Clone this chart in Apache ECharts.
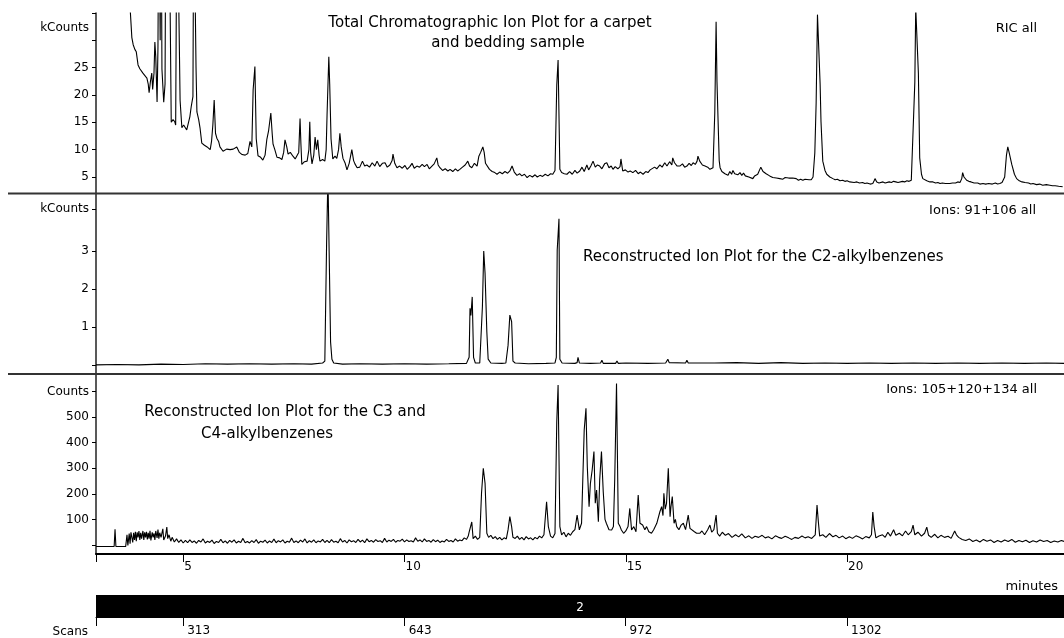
<!DOCTYPE html>
<html><head><meta charset="utf-8">
<script src="https://cdn.jsdelivr.net/npm/echarts@6/dist/echarts.min.js"></script>
<style>html,body{margin:0;padding:0;background:#fff}#c{width:1064px;height:638px}</style>
</head><body><div id="c"></div>
<script>
// ---- data (time in minutes, intensity) ----
const ticPoints = [[3.75,40],[3.80,36],[3.84,30.5],[3.87,29.2],[3.91,28.3],[3.94,27.9],[3.98,25.5],[4.02,24.8],[4.06,24.5],[4.09,24.0],[4.13,23.6],[4.18,23.1],[4.21,22.0],[4.23,20.4],[4.26,22.5],[4.29,24.0],[4.31,21.0],[4.34,24.0],[4.36,29.7],[4.38,27.0],[4.41,18.7],[4.43,28.8],[4.45,60],[4.48,30],[4.50,60],[4.52,24.7],[4.56,18.7],[4.59,22],[4.61,60],[4.66,60],[4.70,40],[4.73,15.0],[4.77,15.5],[4.81,15.1],[4.83,14.5],[4.86,60],[4.90,60],[4.93,19],[4.97,14.0],[5.01,14.5],[5.04,14.5],[5.08,13.6],[5.11,13.3],[5.15,16],[5.18,17.8],[5.22,19.7],[5.24,60],[5.27,38],[5.29,25],[5.31,16.9],[5.35,15.5],[5.38,14.0],[5.42,11.2],[5.48,10.8],[5.54,10.5],[5.61,10.0],[5.64,11.5],[5.67,14.5],[5.70,19.1],[5.73,13],[5.76,12.1],[5.80,11.5],[5.83,10.5],[5.87,10.2],[5.90,9.7],[5.98,10.1],[6.06,10.0],[6.13,10.1],[6.21,10.5],[6.27,9.5],[6.33,9.1],[6.40,9.0],[6.46,9.3],[6.51,11.5],[6.55,10.5],[6.58,20.9],[6.62,25.2],[6.65,12],[6.69,8.9],[6.75,8.6],[6.80,8.1],[6.85,9],[6.89,11.9],[6.93,13.5],[6.98,16.7],[7.01,13],[7.03,11],[7.07,10],[7.12,8.6],[7.18,8.5],[7.23,8.2],[7.27,9.5],[7.30,11.8],[7.34,10.5],[7.37,9.2],[7.42,9.5],[7.48,8.8],[7.53,8.3],[7.57,8.0],[7.61,9.5],[7.64,15.7],[7.66,11],[7.68,7.3],[7.74,7.8],[7.80,7.9],[7.84,10],[7.86,15.1],[7.88,9.5],[7.91,7.4],[7.95,9],[7.98,12.3],[8.01,10],[8.04,11.8],[8.07,9],[8.09,7.9],[8.15,8.2],[8.20,7.9],[8.23,10],[8.25,16.3],[8.29,27],[8.31,22],[8.34,12],[8.38,8.3],[8.43,8.8],[8.47,8.4],[8.51,10],[8.54,13],[8.57,10.5],[8.61,8.4],[8.66,7.5],[8.70,6.3],[8.75,7.5],[8.81,10],[8.85,8],[8.88,7.4],[8.93,6.7],[8.99,6.8],[9.05,7.9],[9.10,7.0],[9.15,7.2],[9.21,6.8],[9.27,7.6],[9.33,7.0],[9.38,7.9],[9.44,6.9],[9.50,7.5],[9.56,7.6],[9.61,6.8],[9.67,7.2],[9.72,8.0],[9.74,9.2],[9.78,7.5],[9.83,6.7],[9.89,7.0],[9.95,6.6],[10.01,7.1],[10.06,6.4],[10.12,6.9],[10.17,7.5],[10.22,6.6],[10.28,7.0],[10.34,6.8],[10.40,7.3],[10.45,6.9],[10.51,7.3],[10.56,6.5],[10.62,7.0],[10.67,7.4],[10.71,7.6],[10.73,8.5],[10.76,7.2],[10.80,6.7],[10.86,6.2],[10.92,6.5],[10.98,6.1],[11.03,6.4],[11.09,6.0],[11.15,6.5],[11.20,6.1],[11.25,6.4],[11.31,6.8],[11.37,7.2],[11.43,7.9],[11.47,7.0],[11.52,6.7],[11.58,7.5],[11.64,7.0],[11.68,8.8],[11.72,9.5],[11.77,10.5],[11.80,9.5],[11.83,7.5],[11.86,7.2],[11.92,6.4],[11.98,6.0],[12.04,5.8],[12.09,5.5],[12.15,5.9],[12.21,5.6],[12.27,6.0],[12.33,5.7],[12.38,6.1],[12.43,7.0],[12.48,5.9],[12.54,5.3],[12.60,5.6],[12.65,5.2],[12.71,5.5],[12.77,4.9],[12.83,5.3],[12.89,5.0],[12.95,5.4],[13.00,5.0],[13.06,5.3],[13.12,5.1],[13.18,5.5],[13.24,5.2],[13.30,5.6],[13.35,5.5],[13.40,6.2],[13.44,21.8],[13.47,26.4],[13.49,26.4],[13.51,6.4],[13.55,5.8],[13.61,5.6],[13.67,5.5],[13.73,6.0],[13.79,5.5],[13.85,6.2],[13.90,5.7],[13.96,6.1],[14.01,6.8],[14.06,6.0],[14.12,7.2],[14.16,6.3],[14.21,7.0],[14.26,7.9],[14.31,6.8],[14.36,7.2],[14.41,7.0],[14.46,6.5],[14.52,7.4],[14.57,7.6],[14.62,6.7],[14.67,7.0],[14.71,6.4],[14.76,6.9],[14.82,6.5],[14.87,6.9],[14.89,8.3],[14.93,6.1],[14.99,6.3],[15.05,5.9],[15.10,6.1],[15.16,5.8],[15.22,6.2],[15.28,5.6],[15.33,5.9],[15.39,5.5],[15.45,6.0],[15.50,5.8],[15.55,6.3],[15.59,6.1],[15.65,6.8],[15.70,6.5],[15.77,7.2],[15.82,6.8],[15.88,7.6],[15.93,7.0],[15.99,7.8],[16.04,7.2],[16.06,8.5],[16.10,7.6],[16.16,7.0],[16.22,7.0],[16.28,7.4],[16.33,6.8],[16.38,7.0],[16.43,7.5],[16.48,7.1],[16.52,7.6],[16.57,7.3],[16.61,7.9],[16.63,8.8],[16.67,7.9],[16.73,7.2],[16.79,7.0],[16.85,6.8],[16.90,6.4],[16.94,6.6],[16.97,6.7],[17.01,16.7],[17.04,33.4],[17.06,22.4],[17.08,22.4],[17.11,8],[17.13,6.7],[17.17,6.0],[17.20,6.3],[17.24,5.6],[17.28,5.9],[17.31,5.3],[17.35,6.0],[17.39,5.5],[17.42,6.2],[17.46,5.6],[17.50,5.9],[17.53,5.4],[17.58,5.8],[17.62,5.3],[17.66,5.7],[17.70,5.2],[17.74,5.5],[17.78,5.0],[17.82,5.3],[17.87,4.7],[17.91,5.2],[17.95,5.0],[17.98,5.5],[18.02,5.5],[18.05,6.8],[18.07,7.0],[18.10,6.0],[18.14,6.2],[18.17,5.6],[18.20,5.8],[18.25,5.2],[18.29,5.4],[18.32,4.9],[18.36,5.2],[18.40,4.8],[18.44,5.1],[18.48,4.7],[18.52,4.9],[18.55,4.6],[18.60,4.9],[18.64,4.6],[18.68,4.8],[18.72,4.5],[18.77,4.8],[18.81,4.5],[18.85,4.7],[18.90,4.4],[18.95,4.6],[19.00,4.4],[19.05,4.6],[19.09,4.3],[19.14,4.5],[19.19,4.5],[19.23,5.0],[19.27,9.4],[19.30,18.5],[19.33,34.7],[19.36,34.7],[19.39,22],[19.41,15.1],[19.45,7.9],[19.50,6.2],[19.54,5.5],[19.58,5.2],[19.61,5.0],[19.65,4.8],[19.68,4.7],[19.73,4.5],[19.78,4.6],[19.84,4.3],[19.90,4.4],[19.95,4.2],[20.00,4.3],[20.06,4.1],[20.10,4.2],[20.16,4.0],[20.22,4.1],[20.28,3.9],[20.35,4.0],[20.40,3.8],[20.45,3.9],[20.52,3.7],[20.58,3.8],[20.61,4.3],[20.63,4.7],[20.67,4.1],[20.72,3.9],[20.75,4.0],[20.81,4.1],[20.86,3.9],[20.90,3.9],[20.95,4.1],[21.00,4.0],[21.05,4.2],[21.10,4.1],[21.15,4.0],[21.19,4.1],[21.25,4.2],[21.30,4.1],[21.35,4.3],[21.40,4.2],[21.45,4.4],[21.49,4.4],[21.53,22.4],[21.55,36],[21.59,36],[21.61,24],[21.64,8.5],[21.68,5.5],[21.71,4.7],[21.75,4.4],[21.80,4.3],[21.87,4.1],[21.94,4.1],[22.00,3.9],[22.05,4.0],[22.10,3.8],[22.15,3.9],[22.22,3.8],[22.32,3.8],[22.38,3.9],[22.45,3.9],[22.50,4.1],[22.55,4.0],[22.59,4.7],[22.61,5.8],[22.64,5.0],[22.70,4.4],[22.75,4.2],[22.80,4.1],[22.87,3.9],[22.95,3.9],[23.00,3.7],[23.07,3.8],[23.13,3.7],[23.20,3.8],[23.28,3.7],[23.35,3.9],[23.40,3.7],[23.45,3.8],[23.50,4.0],[23.56,5.0],[23.60,9.0],[23.63,10.5],[23.66,9.5],[23.72,7.3],[23.78,5.5],[23.83,4.7],[23.89,4.3],[23.95,4.1],[24.02,4.0],[24.10,3.9],[24.15,3.7],[24.20,3.8],[24.28,3.6],[24.35,3.7],[24.42,3.5],[24.50,3.6],[24.58,3.5],[24.64,3.4],[24.70,3.4],[24.78,3.3],[24.87,3.2]];

const c2Points = [[3.03,0.0],[3.5,0.01],[4.0,0.0],[4.5,0.02],[5.0,0.01],[5.5,0.03],[6.0,0.02],[6.5,0.03],[7.0,0.02],[7.5,0.03],[7.9,0.02],[8.15,0.05],[8.20,0.1],[8.24,3.2],[8.27,5.0],[8.31,5.0],[8.33,0.6],[8.36,0.15],[8.40,0.05],[8.6,0.02],[9.0,0.03],[9.5,0.02],[10.0,0.03],[10.5,0.02],[11.0,0.03],[11.4,0.04],[11.46,0.2],[11.48,1.49],[11.50,1.3],[11.53,1.79],[11.56,0.2],[11.60,0.05],[11.70,0.05],[11.74,0.1],[11.76,1.53],[11.79,3.0],[11.82,2.41],[11.86,0.87],[11.89,0.15],[11.95,0.05],[12.2,0.04],[12.29,0.05],[12.34,0.52],[12.38,1.31],[12.42,1.14],[12.45,0.1],[12.50,0.05],[12.8,0.03],[13.2,0.04],[13.40,0.05],[13.43,0.2],[13.45,3.02],[13.49,3.85],[13.51,0.15],[13.56,0.05],[13.85,0.04],[13.90,0.06],[13.92,0.2],[13.95,0.05],[14.2,0.04],[14.43,0.05],[14.46,0.12],[14.49,0.04],[14.77,0.04],[14.80,0.1],[14.83,0.04],[15.0,0.05],[15.5,0.04],[15.90,0.05],[15.95,0.15],[15.98,0.06],[16.35,0.05],[16.38,0.12],[16.41,0.05],[17.0,0.05],[17.5,0.06],[18.0,0.04],[18.5,0.06],[19.0,0.04],[19.5,0.05],[20.0,0.04],[20.5,0.05],[21.0,0.04],[21.5,0.05],[22.0,0.04],[22.5,0.05],[23.0,0.04],[23.5,0.05],[24.0,0.04],[24.5,0.05],[24.9,0.04]];

const c34Points = [[3.03,-6],[3.44,-6],[3.46,62],[3.48,-6],[3.70,-6],[3.73,40],[3.75,-2],[3.78,45],[3.80,5],[3.82,50],[3.84,55],[3.86,10],[3.88,48],[3.90,20],[3.92,52],[3.94,15],[3.96,50],[3.98,30],[4.00,55],[4.02,20],[4.04,48],[4.06,25],[4.09,55],[4.11,20],[4.13,50],[4.15,30],[4.17,52],[4.19,22],[4.21,48],[4.23,25],[4.25,56],[4.27,18],[4.30,50],[4.32,30],[4.34,46],[4.36,20],[4.38,55],[4.41,28],[4.43,60],[4.45,25],[4.47,48],[4.50,30],[4.54,63],[4.56,20],[4.60,35],[4.63,70],[4.65,25],[4.68,40],[4.72,15],[4.75,30],[4.80,12],[4.85,24],[4.90,10],[4.95,20],[5.00,8],[5.05,18],[5.10,9],[5.15,20],[5.20,10],[5.25,16],[5.30,7],[5.35,18],[5.40,12],[5.45,24],[5.50,8],[5.55,15],[5.60,10],[5.65,19],[5.70,6],[5.75,14],[5.80,10],[5.85,22],[5.90,9],[5.95,16],[6.00,7],[6.05,18],[6.10,11],[6.15,20],[6.20,8],[6.25,15],[6.30,10],[6.35,26],[6.40,9],[6.45,14],[6.50,8],[6.55,17],[6.60,10],[6.65,21],[6.70,7],[6.75,15],[6.80,11],[6.85,19],[6.90,8],[6.95,16],[7.00,10],[7.05,23],[7.10,9],[7.15,17],[7.20,12],[7.25,20],[7.30,8],[7.35,15],[7.40,11],[7.45,27],[7.50,10],[7.55,16],[7.60,9],[7.65,19],[7.70,12],[7.75,24],[7.80,8],[7.85,17],[7.90,11],[7.95,20],[8.00,9],[8.05,16],[8.10,12],[8.15,22],[8.20,10],[8.25,18],[8.30,9],[8.35,21],[8.40,11],[8.45,15],[8.50,9],[8.55,25],[8.60,12],[8.65,18],[8.70,8],[8.75,20],[8.80,13],[8.85,17],[8.90,10],[8.95,22],[9.00,12],[9.05,19],[9.10,9],[9.15,24],[9.20,13],[9.25,18],[9.30,11],[9.35,21],[9.40,14],[9.45,17],[9.50,10],[9.55,26],[9.60,12],[9.65,19],[9.70,14],[9.75,22],[9.80,11],[9.85,18],[9.90,15],[9.95,23],[10.00,12],[10.05,20],[10.10,14],[10.15,17],[10.20,12],[10.25,28],[10.30,15],[10.35,20],[10.40,12],[10.45,24],[10.50,14],[10.55,18],[10.60,11],[10.65,21],[10.70,13],[10.75,19],[10.80,10],[10.85,16],[10.90,12],[10.95,22],[11.00,14],[11.05,18],[11.10,12],[11.15,24],[11.20,15],[11.25,20],[11.30,17],[11.35,28],[11.40,22],[11.44,35],[11.46,50],[11.48,52],[11.52,90],[11.55,25],[11.60,35],[11.65,22],[11.70,30],[11.74,202],[11.78,300],[11.82,241],[11.86,46],[11.90,30],[11.95,38],[12.00,25],[12.05,33],[12.10,22],[12.15,30],[12.20,20],[12.25,28],[12.30,24],[12.34,60],[12.38,111],[12.42,72],[12.45,30],[12.50,26],[12.55,35],[12.60,22],[12.65,30],[12.70,20],[12.75,33],[12.80,24],[12.85,28],[12.90,20],[12.95,30],[13.00,24],[13.05,35],[13.10,28],[13.15,40],[13.21,169],[13.25,72],[13.30,35],[13.35,28],[13.40,45],[13.44,482],[13.47,625],[13.51,72],[13.55,40],[13.60,50],[13.65,32],[13.70,46],[13.75,38],[13.80,52],[13.85,60],[13.90,117],[13.95,59],[14.00,85],[14.06,449],[14.10,534],[14.13,306],[14.17,150],[14.20,241],[14.24,293],[14.28,365],[14.31,163],[14.34,215],[14.38,91],[14.41,254],[14.45,365],[14.49,208],[14.53,100],[14.56,85],[14.62,60],[14.68,59],[14.72,72],[14.75,260],[14.79,631],[14.83,85],[14.87,72],[14.90,59],[14.95,46],[15.00,55],[15.05,72],[15.09,143],[15.13,59],[15.18,72],[15.23,52],[15.28,195],[15.32,85],[15.38,78],[15.43,60],[15.47,72],[15.52,52],[15.58,46],[15.63,60],[15.70,85],[15.73,91],[15.77,130],[15.81,150],[15.84,115],[15.86,202],[15.89,140],[15.92,163],[15.96,300],[16.00,111],[16.02,150],[16.05,189],[16.09,85],[16.12,100],[16.15,72],[16.20,60],[16.25,78],[16.30,85],[16.35,60],[16.41,117],[16.45,65],[16.49,59],[16.55,52],[16.60,46],[16.67,46],[16.72,55],[16.78,40],[16.85,60],[16.90,78],[16.94,50],[16.99,60],[17.04,117],[17.07,46],[17.12,35],[17.18,50],[17.25,38],[17.32,45],[17.40,30],[17.48,40],[17.55,32],[17.62,44],[17.70,28],[17.78,36],[17.85,26],[17.92,34],[18.00,30],[18.08,38],[18.15,28],[18.22,32],[18.30,24],[18.38,36],[18.45,30],[18.52,26],[18.60,34],[18.68,28],[18.75,22],[18.82,30],[18.90,26],[18.98,35],[19.05,28],[19.12,32],[19.20,26],[19.28,40],[19.32,156],[19.35,91],[19.38,35],[19.45,40],[19.52,30],[19.60,45],[19.68,32],[19.75,38],[19.82,28],[19.90,35],[19.97,25],[20.05,32],[20.12,26],[20.20,36],[20.28,30],[20.35,24],[20.42,33],[20.50,28],[20.55,40],[20.58,129],[20.61,72],[20.65,28],[20.72,35],[20.80,40],[20.86,30],[20.92,50],[20.98,35],[21.05,60],[21.10,38],[21.18,46],[21.25,36],[21.32,55],[21.38,40],[21.45,52],[21.49,78],[21.53,40],[21.60,50],[21.68,35],[21.75,46],[21.80,70],[21.84,38],[21.90,30],[21.98,42],[22.05,28],[22.12,38],[22.20,30],[22.28,34],[22.35,26],[22.43,55],[22.47,40],[22.52,30],[22.60,22],[22.68,18],[22.76,24],[22.84,14],[22.92,20],[23.00,12],[23.08,22],[23.16,15],[23.24,20],[23.32,10],[23.40,18],[23.48,12],[23.56,20],[23.64,14],[23.72,22],[23.80,11],[23.88,18],[23.96,13],[24.04,19],[24.12,10],[24.20,17],[24.28,12],[24.36,20],[24.44,14],[24.52,18],[24.60,10],[24.68,16],[24.76,12],[24.84,18],[24.90,14]];

// axis ticks / labels
const minuteTicks = [5, 10, 15, 20];
const scanTicks = [313, 643, 972, 1302];
const ticTicks = [5, 10, 15, 20, 25, 30];
const ticLabels = [5, 10, 15, 20, 25];
const c2Ticks = [0, 1, 2, 3];
const c2Labels = [1, 2, 3];
const c34Ticks = [0, 100, 200, 300, 400, 500, 600];
const c34Labels = [100, 200, 300, 400, 500];
const segmentLabel = '2';

// ---- layout ----
const X_MIN = 3.03, X_MAX = 24.9;
const scanAt = t => scanTicks[0] + (t - minuteTicks[0]) * (scanTicks[3] - scanTicks[0]) / (minuteTicks[3] - minuteTicks[0]);
const SCAN_MIN = scanAt(X_MIN), SCAN_MAX = scanAt(X_MAX);
const FONT = 'DejaVu Sans';
const ranges = [[2.07, 35], [-0.24, 4.5], [-35, 668]];
const unitPos = [32.3, 4.1, 600];
const units = ['kCounts', 'kCounts', 'Counts'];
const tickSets = [ticTicks, c2Ticks, c34Ticks];
const labelSets = [ticLabels, c2Labels, c34Labels];
const gridTops = [13, 194, 374];

const chart = echarts.init(document.getElementById('c'), null, {renderer: 'canvas'});

const grids = gridTops.map(t => ({left: 96, right: 0, top: t, height: 180}));
grids.push({left: 96, right: 0, top: 595, height: 22});

const xAxes = [0, 1, 2].map(i => ({
  type: 'value', gridIndex: i, min: X_MIN, max: X_MAX,
  splitLine: {show: false},
  axisLine: {show: i === 2, onZero: false, lineStyle: {color: '#000', width: 2}},
  axisTick: {show: i === 2, inside: false, length: 8, lineStyle: {color: '#000', width: 1}, customValues: [X_MIN].concat(minuteTicks)},
  axisLabel: {show: i === 2, customValues: minuteTicks, align: 'left', margin: 7, padding: [0, 0, 0, 1], color: '#000', fontFamily: FONT, fontSize: 12,
    formatter: v => String(v)}
}));
xAxes.push({
  type: 'value', gridIndex: 3, min: SCAN_MIN, max: SCAN_MAX,
  splitLine: {show: false},
  axisLine: {show: true, onZero: false, lineStyle: {color: '#000', width: 1}},
  axisTick: {show: true, length: 9, lineStyle: {color: '#000'}, customValues: [SCAN_MIN].concat(scanTicks)},
  axisLabel: {show: true, customValues: scanTicks, align: 'left', margin: 8, padding: [0, 0, 0, 4], color: '#000', fontFamily: FONT, fontSize: 12,
    formatter: v => String(v)}
});

const yAxes = [0, 1, 2].map(i => ({
  type: 'value', gridIndex: i, min: ranges[i][0], max: ranges[i][1],
  splitLine: {show: false},
  axisLine: {show: true, lineStyle: {color: '#222', width: 1.5}},
  axisTick: {show: true, inside: false, length: 4, lineStyle: {color: '#000'},
    customValues: tickSets[i].concat(i === 0 ? [35] : [unitPos[i]])},
  axisLabel: {show: true, customValues: labelSets[i].concat([unitPos[i]]), margin: 7,
    color: '#000', fontFamily: FONT, fontSize: 12,
    formatter: v => (v === unitPos[i] ? units[i] : String(v))}
}));
yAxes.push({type: 'value', gridIndex: 3, min: 0, max: 1, show: false});

const traces = [ticPoints, c2Points, c34Points];
const series = traces.map((d, i) => ({
  type: 'line', xAxisIndex: i, yAxisIndex: i, data: d,
  symbol: 'none', showSymbol: false, clip: true, silent: true,
  lineStyle: {color: '#000', width: 1.1}
}));
series.push({
  type: 'custom', xAxisIndex: 3, yAxisIndex: 3, silent: true,
  data: [[SCAN_MIN, SCAN_MAX, segmentLabel]],
  renderItem: (params, api) => {
    const a = api.coord([api.value(0), 1]);
    const b = api.coord([api.value(1), 0]);
    return {
      type: 'group', children: [
        {type: 'rect', shape: {x: a[0], y: a[1], width: b[0] - a[0], height: b[1] - a[1]}, style: {fill: '#000'}},
        {type: 'text', style: {text: String(api.value(2)), x: (a[0] + b[0]) / 2, y: (a[1] + b[1]) / 2 + 2,
          align: 'center', verticalAlign: 'middle', fill: '#fff', fontFamily: FONT, fontSize: 12}}
      ]
    };
  }
});

const txt = (text, x, y, align, size) => ({
  type: 'text', x: x, y: y, silent: true, z: 10,
  style: {text: text, align: align, verticalAlign: 'middle', fill: '#000', fontFamily: FONT, fontSize: size}
});
const hline = (x1, x2, y, w, c) => ({
  type: 'line', silent: true, z: 5,
  shape: {x1: x1, y1: y, x2: x2, y2: y}, style: {stroke: c, lineWidth: w}
});

chart.setOption({
  animation: false,
  backgroundColor: '#fff',
  grid: grids,
  xAxis: xAxes,
  yAxis: yAxes,
  series: series,
  graphic: [
    hline(8, 1064, 193.5, 2, '#333'),
    hline(8, 1064, 374, 2, '#333'),
    txt('Total Chromatographic Ion Plot for a carpet', 490, 23, 'center', 15),
    txt('and bedding sample', 508, 43, 'center', 15),
    txt('RIC all', 1037, 29, 'right', 13),
    txt('Ions: 91+106 all', 1036, 211, 'right', 13),
    txt('Reconstructed Ion Plot for the C2-alkylbenzenes', 583, 257, 'left', 15),
    txt('Ions: 105+120+134 all', 1037, 390, 'right', 13),
    txt('Reconstructed Ion Plot for the C3 and', 285, 412, 'center', 15),
    txt('C4-alkylbenzenes', 267, 434, 'center', 15),
    txt('minutes', 1058, 587, 'right', 13),
    txt('Scans', 88, 632, 'right', 12)
  ]
});
</script>
</body></html>
